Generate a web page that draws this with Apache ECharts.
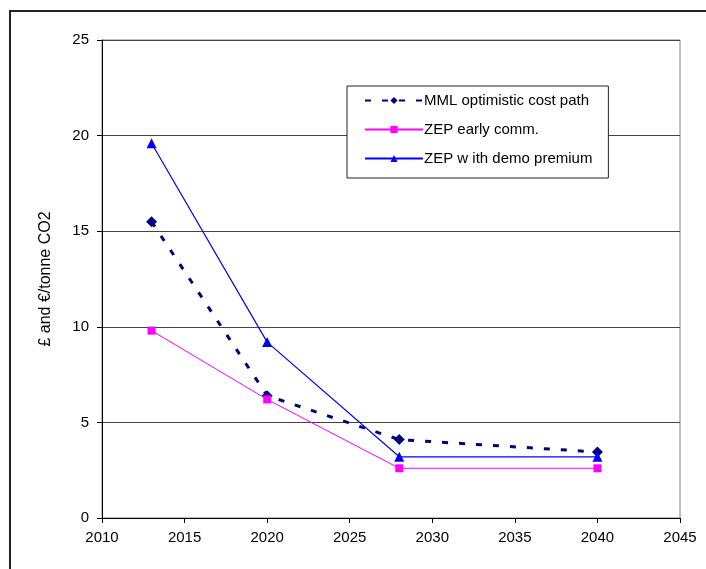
<!DOCTYPE html>
<html>
<head>
<meta charset="utf-8">
<script src="https://cdn.jsdelivr.net/npm/echarts@6/dist/echarts.min.js"></script>
<style>
  html, body { margin: 0; padding: 0; background: #fff; }
  #chart { width: 706px; height: 569px; }
</style>
</head>
<body>
<div id="chart"></div>
<script>
// Cost paths per tonne of CO2
const years = [2013, 2020, 2028, 2040];
const mmlOptimistic = [15.5, 6.4, 4.1, 3.45];
const zepEarlyComm = [9.8, 6.2, 2.6, 2.6];
const zepDemoPremium = [19.6, 9.2, 3.2, 3.2];
const seriesNames = ['MML optimistic cost path', 'ZEP early comm.', 'ZEP w ith demo premium'];
const yAxisTitle = '£ and €/tonne CO2';

const pairs = (xs, ys) => xs.map((x, i) => [x, ys[i]]);
const font = '"Liberation Sans", Arial, sans-serif';

const chart = echarts.init(document.getElementById('chart'), null, { renderer: 'canvas' });
chart.setOption({
  animation: false,
  backgroundColor: '#fff',
  textStyle: { fontFamily: font },
  grid: {
    left: 102, right: 26, top: 40, bottom: 51,
    show: true, borderColor: '#808080', borderWidth: 1, backgroundColor: 'transparent'
  },
  legend: {
    orient: 'vertical',
    left: 347, top: 86,
    padding: [7, 16, 12, 17],
    itemGap: 14,
    itemWidth: 58,
    itemHeight: 9,
    backgroundColor: '#fff',
    borderColor: '#222',
    borderWidth: 1,
    textStyle: { fontFamily: font, fontSize: 15, color: '#000', padding: [0, 0, 0, -4] },
    data: seriesNames
  },
  xAxis: {
    type: 'value', min: 2010, max: 2045, interval: 5,
    axisLine: { show: true, onZero: false, lineStyle: { color: '#000', width: 1 } },
    axisTick: { show: true, length: 5, lineStyle: { color: '#000' } },
    axisLabel: { fontFamily: font, fontSize: 15, color: '#000', margin: 12, formatter: v => String(v) },
    splitLine: { show: false }
  },
  yAxis: {
    type: 'value', min: 0, max: 25, interval: 5,
    name: yAxisTitle,
    nameLocation: 'middle',
    nameGap: 48,
    nameTextStyle: { fontFamily: font, fontSize: 16, color: '#000' },
    axisLine: { show: true, lineStyle: { color: '#000', width: 1 } },
    axisTick: { show: true, length: 5, lineStyle: { color: '#000' } },
    axisLabel: { fontFamily: font, fontSize: 15, color: '#000', margin: 13 },
    splitLine: { show: true, lineStyle: { color: '#444', width: 1 } }
  },
  series: [
    {
      name: seriesNames[0], type: 'line', data: pairs(years, mmlOptimistic),
      symbol: 'diamond', symbolSize: 11,
      itemStyle: { color: '#000080' },
      lineStyle: { color: '#000080', width: 3, type: [6, 11] },
      z: 2
    },
    {
      name: seriesNames[1], type: 'line', data: pairs(years, zepEarlyComm),
      symbol: 'rect', symbolSize: 8,
      itemStyle: { color: '#ff00ff' },
      lineStyle: { color: '#ff00ff', width: 1 },
      z: 3
    },
    {
      name: seriesNames[2], type: 'line', data: pairs(years, zepDemoPremium),
      symbol: 'triangle', symbolSize: 10,
      itemStyle: { color: '#0000ff' },
      lineStyle: { color: '#0000ff', width: 1.2 },
      z: 4
    }
  ],
  graphic: [
    {
      type: 'polyline',
      shape: { points: [[10, 569], [10, 11], [706, 11]] },
      style: { stroke: '#222', lineWidth: 2, fill: null },
      silent: true
    }
  ]
});
</script>
</body>
</html>
